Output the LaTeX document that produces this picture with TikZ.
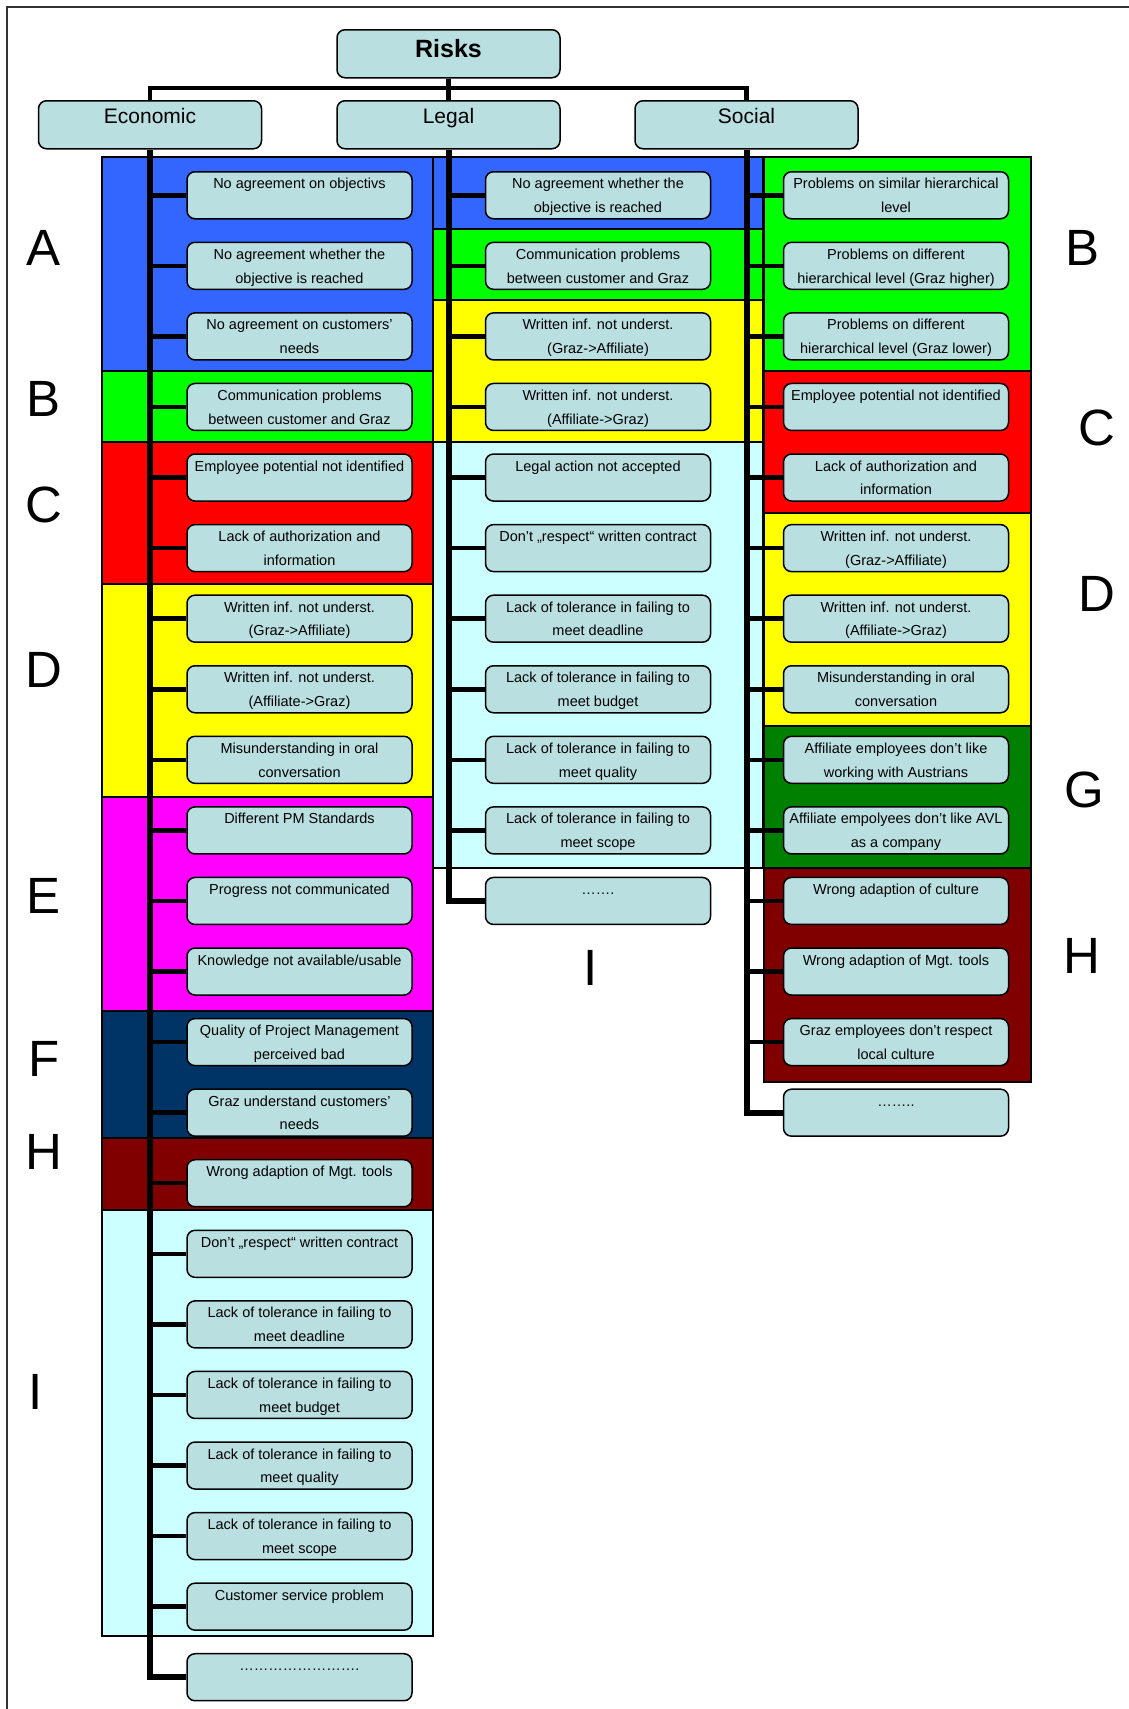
\documentclass[tikz,border=0pt]{standalone}
\usepackage{fontspec}
\setmainfont{Liberation Sans}
\definecolor{boxfill}{RGB}{186,223,225}
\definecolor{cblue}{RGB}{51,102,255}
\definecolor{cgreen}{RGB}{0,255,0}
\definecolor{cred}{RGB}{255,0,0}
\definecolor{cyellow}{RGB}{255,255,0}
\definecolor{cmagenta}{RGB}{255,0,255}
\definecolor{cnavy}{RGB}{0,51,102}
\definecolor{cdkred}{RGB}{128,0,0}
\definecolor{ccyan}{RGB}{204,255,255}
\definecolor{cdkgreen}{RGB}{0,128,0}
\tikzset{
  frameline/.style={draw=black!80, line width=2pt},
  band/.style={draw=black, line width=1.3pt},
  rbox/.style={draw=black, line width=1.5pt, fill=boxfill, rounded corners=8pt,
    minimum width=225pt, minimum height=47pt, inner sep=0pt, anchor=north,
    text height=17pt, text depth=30pt, font=\fontsize{14.5}{17}\selectfont},
  rtxt/.style={anchor=base, inner sep=0pt, font=\fontsize{14.5}{17}\selectfont},
  hbox/.style={draw=black, line width=1.5pt, fill=boxfill, rounded corners=8pt,
    minimum width=223pt, minimum height=48pt, inner sep=0pt, anchor=north,
    text height=23pt, text depth=25pt, font=\fontsize{21}{24}\selectfont},
  bus/.style={draw=black, line width=4.5pt},
  trunk/.style={draw=black, line width=6pt, line join=miter},
  stub/.style={draw=black, line width=4.5pt},
  letter/.style={inner sep=0pt, font=\fontsize{51}{56}\selectfont}
}
% name, x centre, row, line 1, line 2, trunk node
\newcommand\rb[6]{%
  \node[rbox] (#1) at (#2,{171+70.57*#3}) {#4};
  \node[rtxt] (#1b) at ([yshift=-41.5pt]#1.north) {#5};
  \draw[stub] (#6.south |- #1.west) -- (#1.west);
}
\begin{document}
\begin{tikzpicture}[x=1pt,y=-1pt]
\useasboundingbox (0,0) rectangle (1128,1709);
\draw[frameline] (7,1720) -- (7,7) -- (1140,7);

% Economic bands
\draw[band, fill=cblue]    (102,157) rectangle (433,371);
\draw[band, fill=cgreen]   (102,371) rectangle (433,442);
\draw[band, fill=cred]     (102,442) rectangle (433,584);
\draw[band, fill=cyellow]  (102,584) rectangle (433,797);
\draw[band, fill=cmagenta] (102,797) rectangle (433,1011);
\draw[band, fill=cnavy]    (102,1011) rectangle (433,1138);
\draw[band, fill=cdkred]   (102,1138) rectangle (433,1210);
\draw[band, fill=ccyan]    (102,1210) rectangle (433,1636);
% Legal bands
\draw[band, fill=cblue]    (433,157) rectangle (763,229);
\draw[band, fill=cgreen]   (433,229) rectangle (763,300);
\draw[band, fill=cyellow]  (433,300) rectangle (763,442);
\draw[band, fill=ccyan]    (433,442) rectangle (763,868);
% Social bands
\draw[band, fill=cgreen]   (764,157) rectangle (1031,371);
\draw[band, fill=cred]     (764,371) rectangle (1031,513);
\draw[band, fill=cyellow]  (764,513) rectangle (1031,726);
\draw[band, fill=cdkgreen] (764,726) rectangle (1031,868);
\draw[band, fill=cdkred]   (764,868) rectangle (1031,1082);

% Headers
\node[hbox, text height=28pt, text depth=20pt, font=\fontsize{25}{28}\selectfont\bfseries] (risks) at (448.5,29) {Risks};
\node[hbox] (eco) at (150,100) {Economic};
\node[hbox] (leg) at (448.5,100) {Legal};
\node[hbox] (soc) at (746.5,100) {Social};
\draw[bus] (risks.south) -- (leg.north);
\draw[bus] (eco.north) -- ++(0,-12) -| (soc.north);

% Economic boxes
\rb{e0}{299.5}{0}{No agreement on objectivs}{}{eco}
\rb{e1}{299.5}{1}{No agreement whether the}{objective is reached}{eco}
\rb{e2}{299.5}{2}{No agreement on customers’}{needs}{eco}
\rb{e3}{299.5}{3}{Communication problems}{between customer and Graz}{eco}
\rb{e4}{299.5}{4}{Employee potential not identified}{}{eco}
\rb{e5}{299.5}{5}{Lack of authorization and}{information}{eco}
\rb{e6}{299.5}{6}{Written inf. not underst.}{(Graz->Affiliate)}{eco}
\rb{e7}{299.5}{7}{Written inf. not underst.}{(Affiliate->Graz)}{eco}
\rb{e8}{299.5}{8}{Misunderstanding in oral}{conversation}{eco}
\rb{e9}{299.5}{9}{Different PM Standards}{}{eco}
\rb{e10}{299.5}{10}{Progress not communicated}{}{eco}
\rb{e11}{299.5}{11}{Knowledge not available/usable}{}{eco}
\rb{e12}{299.5}{12}{Quality of Project Management}{perceived bad}{eco}
\rb{e13}{299.5}{13}{Graz understand customers’}{needs}{eco}
\rb{e14}{299.5}{14}{Wrong adaption of Mgt. tools}{}{eco}
\rb{e15}{299.5}{15}{Don’t „respect“ written contract}{}{eco}
\rb{e16}{299.5}{16}{Lack of tolerance in failing to}{meet deadline}{eco}
\rb{e17}{299.5}{17}{Lack of tolerance in failing to}{meet budget}{eco}
\rb{e18}{299.5}{18}{Lack of tolerance in failing to}{meet quality}{eco}
\rb{e19}{299.5}{19}{Lack of tolerance in failing to}{meet scope}{eco}
\rb{e20}{299.5}{20}{Customer service problem}{}{eco}
\rb{e21}{299.5}{21}{…………………….}{}{eco}

% Legal boxes
\rb{l0}{598}{0}{No agreement whether the}{objective is reached}{leg}
\rb{l1}{598}{1}{Communication problems}{between customer and Graz}{leg}
\rb{l2}{598}{2}{Written inf. not underst.}{(Graz->Affiliate)}{leg}
\rb{l3}{598}{3}{Written inf. not underst.}{(Affiliate->Graz)}{leg}
\rb{l4}{598}{4}{Legal action not accepted}{}{leg}
\rb{l5}{598}{5}{Don’t „respect“ written contract}{}{leg}
\rb{l6}{598}{6}{Lack of tolerance in failing to}{meet deadline}{leg}
\rb{l7}{598}{7}{Lack of tolerance in failing to}{meet budget}{leg}
\rb{l8}{598}{8}{Lack of tolerance in failing to}{meet quality}{leg}
\rb{l9}{598}{9}{Lack of tolerance in failing to}{meet scope}{leg}
\rb{l10}{598}{10}{…….}{}{leg}

% Social boxes
\rb{s0}{896}{0}{Problems on similar hierarchical}{level}{soc}
\rb{s1}{896}{1}{Problems on different}{hierarchical level (Graz higher)}{soc}
\rb{s2}{896}{2}{Problems on different}{hierarchical level (Graz lower)}{soc}
\rb{s3}{896}{3}{Employee potential not identified}{}{soc}
\rb{s4}{896}{4}{Lack of authorization and}{information}{soc}
\rb{s5}{896}{5}{Written inf. not underst.}{(Graz->Affiliate)}{soc}
\rb{s6}{896}{6}{Written inf. not underst.}{(Affiliate->Graz)}{soc}
\rb{s7}{896}{7}{Misunderstanding in oral}{conversation}{soc}
\rb{s8}{896}{8}{Affiliate employees don’t like}{working with Austrians}{soc}
\rb{s9}{896}{9}{Affiliate empolyees don’t like AVL}{as a company}{soc}
\rb{s10}{896}{10}{Wrong adaption of culture}{}{soc}
\rb{s11}{896}{11}{Wrong adaption of Mgt. tools}{}{soc}
\rb{s12}{896}{12}{Graz employees don’t respect}{local culture}{soc}
\rb{s13}{896}{13}{……..}{}{soc}

% Trunks
\draw[trunk] (eco.south) -- (eco.south |- e21.west) -- (e21.west);
\draw[trunk] (leg.south) -- (leg.south |- l10.west) -- (l10.west);
\draw[trunk] (soc.south) -- (soc.south |- s13.west) -- (s13.west);

% Letters
\node[letter] (LA) at (44,248) {A};
\node[letter] (LB) at (44,399) {B};
\node[letter] (LC) at (44,505) {C};
\node[letter] (LD) at (44,670) {D};
\node[letter] (LE) at (44,896) {E};
\node[letter] (LF) at (44,1059) {F};
\node[letter] (LH) at (44,1152) {H};
\node[letter] (LI) at (36,1392) {I};
\node[letter] (RB) at (1082,248) {B};
\node[letter] (RC) at (1097,428) {C};
\node[letter] (RD) at (1097,594) {D};
\node[letter] (RG) at (1084,790) {G};
\node[letter] (RH) at (1082,956) {H};
\node[letter] (MI) at (591,968) {I};
\end{tikzpicture}
\end{document}
